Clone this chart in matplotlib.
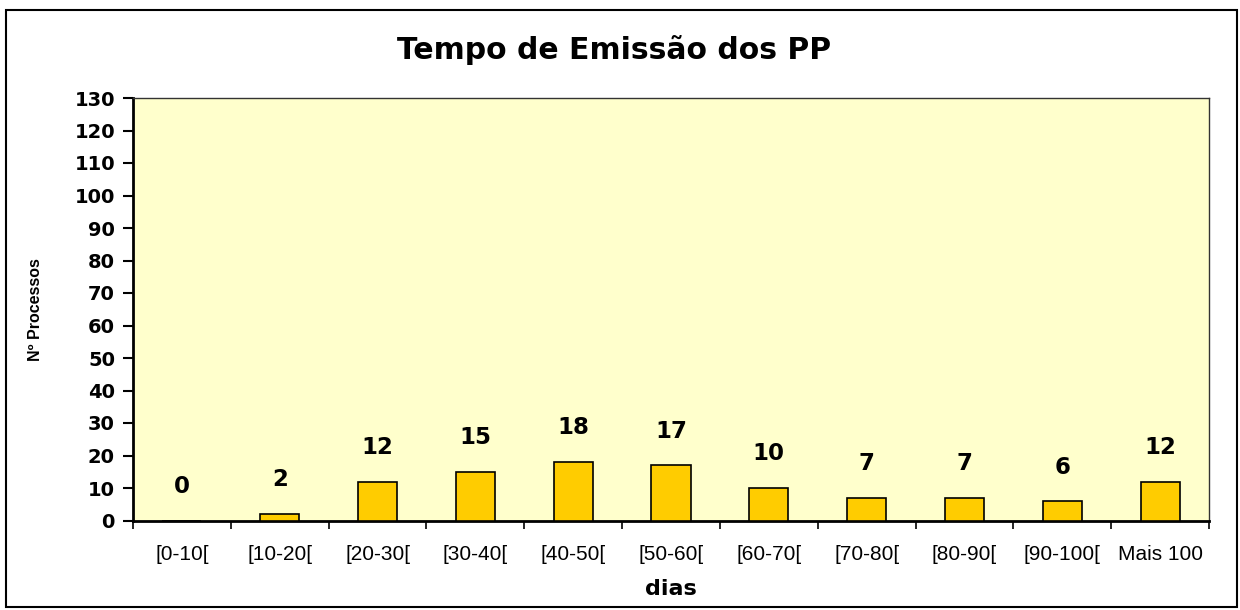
import matplotlib
matplotlib.use("Agg")
import matplotlib.pyplot as plt
from matplotlib.patches import Rectangle

categories = ["[0-10[", "[10-20[", "[20-30[", "[30-40[", "[40-50[", "[50-60[",
              "[60-70[", "[70-80[", "[80-90[", "[90-100[", "Mais 100"]
values = [0, 2, 12, 15, 18, 17, 10, 7, 7, 6, 12]
yticks = list(range(0, 131, 10))

W, H = 1240, 610
fig = plt.figure(figsize=(W / 100, H / 100), dpi=100)
fig.patch.set_facecolor("white")

# outer chart border
fig.add_artist(Rectangle((6 / W, 3 / H), (1237 - 6) / W, (600 - 3) / H,
                         transform=fig.transFigure, fill=False,
                         edgecolor="black", linewidth=1.5))

left, right, top, bottom = 133, 1209, 98, 520.5
ax = fig.add_axes([left / W, 1 - bottom / H, (right - left) / W, (bottom - top) / H])
ax.set_facecolor("#FFFFCC")

x = list(range(len(categories)))
ax.bar(x, values, width=0.4, color="#FFCC00", edgecolor="black", linewidth=1.2, zorder=3)

for xi, v in zip(x, values):
    ax.annotate(str(v), (xi, v), xytext=(0, 34), textcoords="offset pixels",
                ha="center", va="center", fontsize=16.5, fontweight="bold",
                family="DejaVu Sans", color="black", zorder=4)

ax.set_xlim(-0.5, len(categories) - 0.5)
ax.set_ylim(0, 130)
ax.set_yticks(yticks)
ax.set_yticklabels([str(t) for t in yticks], fontsize=14, fontweight="bold",
                   family="DejaVu Sans")
ax.set_xticks(x)
ax.set_xticklabels(categories, fontsize=15, family="Liberation Sans")
ax.set_xticks([i - 0.5 for i in range(len(categories) + 1)], minor=True)
ax.tick_params(axis="x", which="major", length=0, pad=18)
ax.tick_params(axis="x", which="minor", length=6, width=1.2, direction="out")
ax.tick_params(axis="y", length=7, width=1.5, direction="out", pad=6)

for s in ["left", "bottom"]:
    ax.spines[s].set_linewidth(2)
for s in ["top", "right"]:
    ax.spines[s].set_linewidth(1)
    ax.spines[s].set_color("#333333")

ax.set_xlabel("dias", fontsize=16, fontweight="bold", family="DejaVu Sans")
ax.xaxis.set_label_coords(0.5, (bottom - 589) / (bottom - top))
ax.xaxis.label.set_va("center")
ax.set_ylabel("Nº Processos", fontsize=11.5, fontweight="bold", family="Liberation Sans")
ax.yaxis.set_label_coords((36 - left) / (right - left), 0.5)
ax.yaxis.label.set_va("center")

fig.text(614 / W, 1 - 50 / H, "Tempo de Emissão dos PP", ha="center", va="center",
         fontsize=21.5, fontweight="bold", family="DejaVu Sans")

fig.savefig("out.png", dpi=100, facecolor="white")
